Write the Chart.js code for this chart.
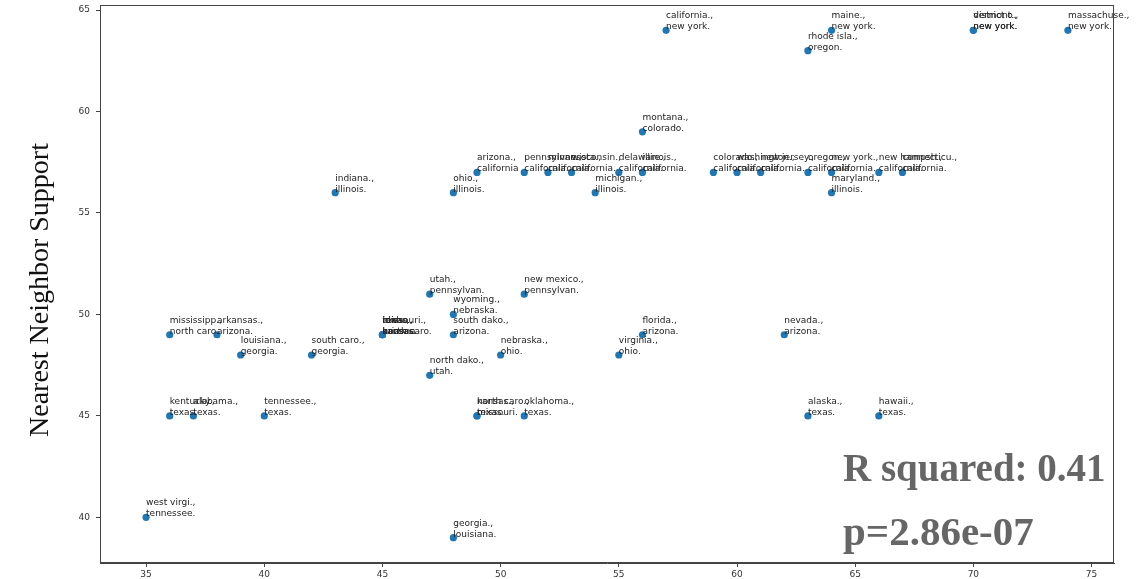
<!DOCTYPE html>
<html>
<head>
<meta charset="utf-8">
<script src="https://cdn.jsdelivr.net/npm/chart.js@4.4.1/dist/chart.umd.min.js"></script>
<style>
  html, body { margin: 0; padding: 0; background: #fff; }
  #wrap { width: 1137px; height: 579px; }
</style>
</head>
<body>
<div id="wrap"><canvas id="nnChart" width="1137" height="579"></canvas></div>
<script>
// state label (first line) and its nearest neighbour (second line)
const states = [
  "california.,", "maine.,", "rhode isla.,", "district o.,", "vermont.,", "massachuse.,",
  "montana.,", "arizona.,", "pennsylvan.,", "minnesota.,", "wisconsin.,", "delaware.,",
  "illinois.,", "michigan.,", "indiana.,", "ohio.,", "colorado.,", "washington.,",
  "new jersey.,", "oregon.,", "new york.,", "new hampsh.,", "connecticu.,", "maryland.,",
  "utah.,", "new mexico.,", "wyoming.,", "south dako.,", "nebraska.,", "north dako.,",
  "virginia.,", "florida.,", "nevada.,", "texas.,", "missouri.,", "idaho.,", "iowa.,",
  "mississipp.,", "arkansas.,", "louisiana.,", "south caro.,", "kentucky.,", "alabama.,",
  "tennessee.,", "kansas.,", "north caro.,", "oklahoma.,", "alaska.,", "hawaii.,",
  "west virgi.,", "georgia.,"
];
const neighbors = [
  "new york.", "new york.", "oregon.", "new york.", "new york.", "new york.",
  "colorado.", "california", "california.", "california.", "california.", "california.",
  "california.", "illinois.", "illinois.", "illinois.", "california.", "california.",
  "california.", "california.", "california.", "california.", "california.", "illinois.",
  "pennsylvan.", "pennsylvan.", "nebraska.", "arizona.", "ohio.", "utah.",
  "ohio.", "arizona.", "arizona.", "kansas.", "kansas.", "north caro.", "arizona.",
  "north caro.", "arizona.", "georgia.", "georgia.", "texas.", "texas.",
  "texas.", "missouri.", "texas.", "texas.", "texas.", "texas.",
  "tennessee.", "louisiana."
];
const xValues = [
  57, 64, 63, 70, 70, 74,
  56, 49, 51, 52, 53, 55,
  56, 54, 43, 48, 59, 60,
  61, 63, 64, 66, 67, 64,
  47, 51, 48, 48, 50, 47,
  55, 56, 62, 45, 45, 45, 45,
  36, 38, 39, 42, 36, 37,
  40, 49, 49, 51, 63, 66,
  35, 48
];
const yValues = [
  64, 64, 63, 64, 64, 64,
  59, 57, 57, 57, 57, 57,
  57, 56, 56, 56, 57, 57,
  57, 57, 57, 57, 57, 56,
  51, 51, 50, 49, 48, 47,
  48, 49, 49, 49, 49, 49, 49,
  49, 49, 48, 48, 45, 45,
  45, 45, 45, 45, 45, 45,
  40, 39
];
const xTicks = [35, 40, 45, 50, 55, 60, 65, 70, 75];
const yTicks = [40, 45, 50, 55, 60, 65];
const yTitle = "Nearest Neighbor Support";
const rSquaredText = "R squared: 0.41";
const pValueText = "p=2.86e-07";

const points = xValues.map((x, i) => ({ x: x, y: yValues[i] }));

const pointLabels = {
  id: 'pointLabels',
  afterDatasetsDraw(chart) {
    const ctx = chart.ctx;
    const meta = chart.getDatasetMeta(0);
    ctx.save();
    ctx.font = '9px "DejaVu Sans"';
    ctx.fillStyle = '#222';
    ctx.textAlign = 'left';
    ctx.textBaseline = 'alphabetic';
    meta.data.forEach((pt, i) => {
      ctx.fillText(states[i], pt.x, pt.y - 12);
      ctx.fillText(neighbors[i], pt.x, pt.y - 1);
    });
    ctx.restore();
  }
};

const frameAndStats = {
  id: 'frameAndStats',
  afterDraw(chart) {
    const ctx = chart.ctx;
    const a = chart.chartArea;
    ctx.save();
    ctx.strokeStyle = '#444';
    ctx.lineWidth = 1;
    ctx.strokeRect(a.left + 0.5, a.top + 0.5, a.right - a.left - 1, a.bottom - a.top - 1);

    // y axis title, a little below the plot's middle as in the original
    ctx.save();
    ctx.translate(41, 290);
    ctx.rotate(-Math.PI / 2);
    ctx.font = '28px "Liberation Serif"';
    ctx.fillStyle = '#111';
    ctx.textAlign = 'center';
    ctx.textBaseline = 'middle';
    ctx.fillText(yTitle, 0, 0);
    ctx.restore();

    ctx.font = 'bold 39px "Liberation Serif"';
    ctx.fillStyle = '#666666';
    ctx.textAlign = 'left';
    ctx.textBaseline = 'alphabetic';
    ctx.fillText(rSquaredText, 843, 481);
    ctx.font = 'bold 41px "Liberation Serif"';
    ctx.fillText(pValueText, 843, 545);
    ctx.restore();
  }
};

const ctx = document.getElementById('nnChart').getContext('2d');

const chart = new Chart(ctx, {
  type: 'scatter',
  data: {
    datasets: [{
      data: points,
      backgroundColor: '#1f77b4',
      borderColor: '#1f77b4',
      pointRadius: 3.6,
      pointHoverRadius: 3.6,
      borderWidth: 0
    }]
  },
  options: {
    responsive: false,
    animation: false,
    layout: { padding: { left: 0, right: 23, top: 5, bottom: 0 } },
    plugins: {
      legend: { display: false },
      tooltip: { enabled: false }
    },
    scales: {
      x: {
        type: 'linear',
        min: 33.05,
        max: 75.95,
        afterBuildTicks: (scale) => { scale.ticks = xTicks.map(v => ({ value: v })); },
        afterFit: (scale) => { scale.height = 16; scale.paddingLeft = 0; scale.paddingRight = 0; },
        grid: { display: true, drawOnChartArea: false, drawTicks: true, tickLength: 4, color: '#444' },
        border: { display: true, color: '#444', width: 1 },
        ticks: { color: '#333', padding: 2, maxRotation: 0, font: { family: 'DejaVu Sans', size: 9 } }
      },
      y: {
        type: 'linear',
        min: 37.75,
        max: 65.25,
        afterBuildTicks: (scale) => { scale.ticks = yTicks.map(v => ({ value: v })); },
        afterFit: (scale) => { scale.width = 100; scale.paddingTop = 0; scale.paddingBottom = 0; },
        grid: { display: true, drawOnChartArea: false, drawTicks: true, tickLength: 4, color: '#444' },
        border: { display: true, color: '#444', width: 1 },
        ticks: { color: '#333', padding: 6, font: { family: 'DejaVu Sans', size: 9 } }
      }
    }
  },
  plugins: [pointLabels, frameAndStats]
});
</script>
</body>
</html>
